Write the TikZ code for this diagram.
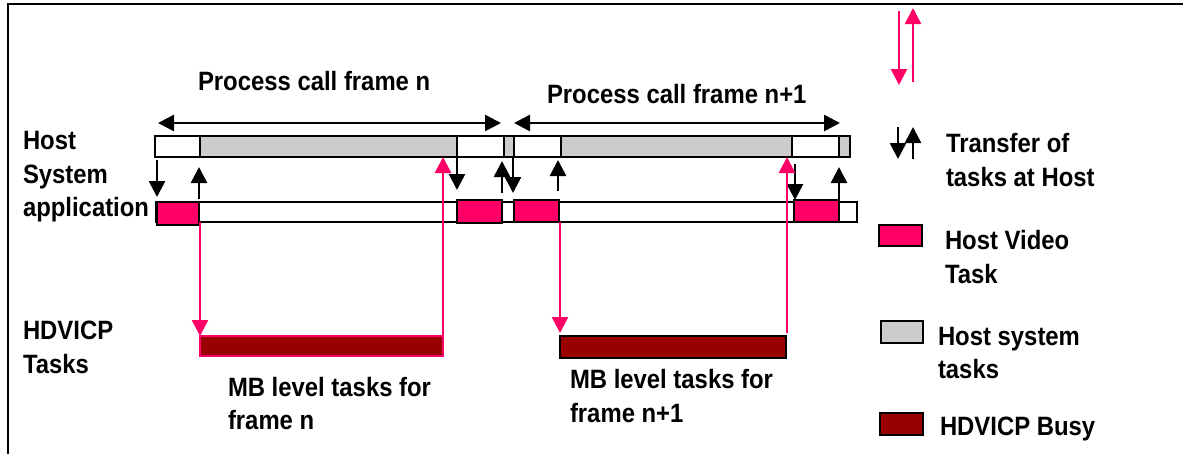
\documentclass[tikz,border=0pt]{standalone}
\usepackage{fontspec}
\setmainfont[FakeStretch=0.9]{Liberation Sans}
\usetikzlibrary{arrows.meta}
\definecolor{vpink}{RGB}{255,0,102}
\definecolor{hgray}{RGB}{204,204,204}
\definecolor{dred}{RGB}{153,0,0}
\newcommand{\bx}[6]{\node[#2,minimum width={(#5-#3)*0.75pt},minimum height={(#6-#4)*0.75pt}] (#1) at ({(#3+#5)/2},{(#4+#6)/2}) {};}
\tikzset{
  x=0.75pt,y=-0.75pt,
  bar/.style={draw=black,line width=1.7pt,inner sep=0pt,outer sep=0pt},
  whitebar/.style={bar,fill=white},
  graybar/.style={bar,fill=hgray},
  pinkbar/.style={bar,fill=vpink},
  busybar/.style={bar,fill=dred},
  blk/.style={draw=black,line width=2pt,-{Triangle[length=12pt,width=12pt]}},
  blkh/.style={draw=black,line width=2pt,{Triangle[length=12pt,width=12pt]}-{Triangle[length=12pt,width=12pt]}},
  pnk/.style={draw=vpink,line width=1.9pt,-{Triangle[length=12pt,width=12pt]}},
  lab/.style={font=\bfseries\fontsize{19.9pt}{22pt}\selectfont,inner sep=0pt,outer sep=0pt,anchor=base west,align=left},
}
\begin{document}
\begin{tikzpicture}
\useasboundingbox (0,0) rectangle (1183,454);
% frame
\coordinate (fbl) at (8,454); \coordinate (ftl) at (8,4); \coordinate (ftr) at (1183,4);
\draw[line width=1.5pt] (fbl) -- (ftl) -- (ftr);
% host bar
\bx{hostbar}{graybar}{155}{136}{850}{157}
\bx{w1}{whitebar}{155}{136}{200}{157}
\bx{w2}{whitebar}{457}{136}{504}{157}
\bx{w3}{whitebar}{514}{136}{561}{157}
\bx{w4}{whitebar}{792}{136}{839}{157}
% application bar
\bx{appbar}{whitebar}{156}{202}{857}{222}
\bx{p1}{pinkbar}{157}{202}{199}{225}
\bx{p2}{pinkbar}{457}{200}{502}{223}
\bx{p3}{pinkbar}{514}{200}{559}{222}
\bx{p4}{pinkbar}{794}{200}{839}{222}
% HDVICP busy
\bx{b1}{busybar}{200}{336}{443}{356}
\bx{b2}{busybar}{560}{336}{786}{358}
% span arrows
\coordinate (sa) at (158,123); \coordinate (sb) at (501,123);
\coordinate (sc) at (514,123); \coordinate (sd) at (840,123);
\draw[blkh] (sa) -- (sb);
\draw[blkh] (sc) -- (sd);
% black transfers
\coordinate (k1a) at (157,160); \coordinate (k1b) at (157,197);
\coordinate (k2a) at (199,199); \coordinate (k2b) at (199,167);
\coordinate (k3a) at (457,157); \coordinate (k3b) at (457,190);
\coordinate (k4a) at (502,193); \coordinate (k4b) at (502,161);
\coordinate (k5a) at (513,157); \coordinate (k5b) at (513,193);
\coordinate (k6a) at (558,191); \coordinate (k6b) at (558,160);
\coordinate (k7a) at (795,164); \coordinate (k7b) at (795,200);
\coordinate (k8a) at (839,200); \coordinate (k8b) at (839,167);
\foreach \i in {1,...,8} {\draw[blk] (k\i a) -- (k\i b);}
% pink transfers
\coordinate (q1a) at (200,222); \coordinate (q1b) at (200,336);
\coordinate (q2a) at (443,336); \coordinate (q2b) at (443,157);
\coordinate (q3a) at (560,222); \coordinate (q3b) at (560,333);
\coordinate (q4a) at (787,333); \coordinate (q4b) at (787,157);
\foreach \i in {1,...,4} {\draw[pnk] (q\i a) -- (q\i b);}
% pink outline of the first busy bar
\draw[vpink,line width=1.7pt] (b1.north west) rectangle (b1.south east);
% legend
\coordinate (l1a) at (899,11); \coordinate (l1b) at (899,85);
\coordinate (l2a) at (913,82); \coordinate (l2b) at (913,8);
\draw[pnk] (l1a) -- (l1b);
\draw[pnk] (l2a) -- (l2b);
\coordinate (l3a) at (898,127); \coordinate (l3b) at (898,159);
\coordinate (l4a) at (913,159); \coordinate (l4b) at (913,127);
\draw[blk] (l3a) -- (l3b);
\draw[blk] (l4a) -- (l4b);
\bx{lp}{pinkbar}{879}{225}{922}{246}
\bx{lg}{graybar}{881}{321}{923}{343}
\bx{ld}{busybar}{880}{413}{923}{435}
% texts
\node[lab] (t1) at (198,90) {Process call frame n};
\node[lab] (t2) at (547,103) {Process call frame n+1};
\node[lab] (t3) at (23,149) {Host};
\node[lab] (t4) at (23,183) {System};
\node[lab] (t5) at (23,216) {application};
\node[lab] (t6) at (23,339) {HDVICP};
\node[lab] (t7) at (23,373) {Tasks};
\node[lab] (t8) at (228,396) {MB level tasks for};
\node[lab] (t9) at (228,429) {frame n};
\node[lab] (t10) at (570,388) {MB level tasks for};
\node[lab] (t11) at (570,422) {frame n+1};
\node[lab] (t12) at (946,152) {Transfer of};
\node[lab] (t13) at (946,186) {tasks at Host};
\node[lab] (t14) at (945,249) {Host Video};
\node[lab] (t15) at (945,283) {Task};
\node[lab] (t16) at (938,345) {Host system};
\node[lab] (t17) at (938,378) {tasks};
\node[lab] (t18) at (940,435) {HDVICP Busy};
\end{tikzpicture}
\end{document}
